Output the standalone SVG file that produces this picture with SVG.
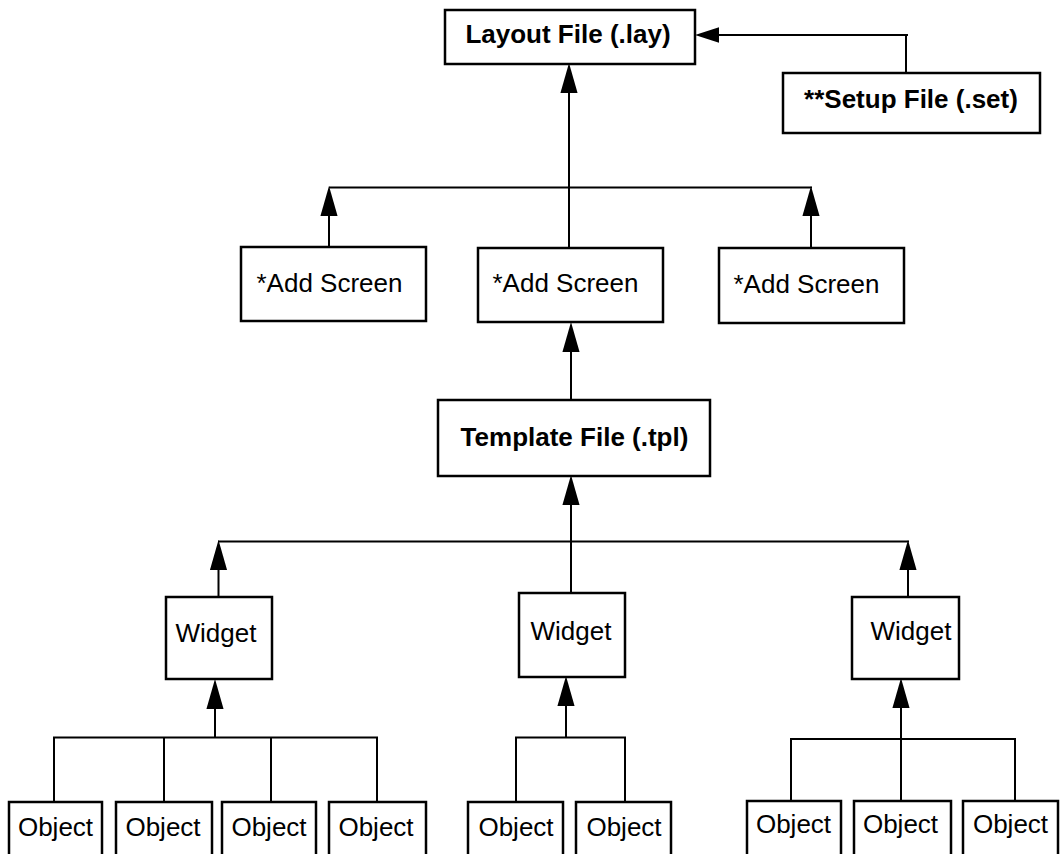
<svg xmlns="http://www.w3.org/2000/svg" width="1061" height="854" viewBox="0 0 1061 854">
  <style>
    .box { fill: #ffffff; stroke: #000000; stroke-width: 2.5; }
    .lbl { font-family: "Liberation Sans", Arial, Helvetica, sans-serif; font-size: 26px; fill: #000000; text-anchor: middle; }
    .bold { font-weight: bold; }
    .wire { fill: none; stroke: #000000; stroke-width: 2; }
    .arr { marker-end: url(#head); }
    .arrs { marker-end: url(#headS); }
  </style>
  <defs>
    <marker id="head" markerUnits="userSpaceOnUse" markerWidth="30" markerHeight="18" refX="0" refY="8" orient="auto" viewBox="0 0 28 16">
      <path d="M0,0 L28,8 L0,16 Z" fill="#000000"/>
    </marker>
    <marker id="headS" markerUnits="userSpaceOnUse" markerWidth="24" markerHeight="16" refX="0" refY="7" orient="auto" viewBox="0 0 22 14">
      <path d="M0,0 L22,7 L0,14 Z" fill="#000000"/>
    </marker>
  </defs>
  <rect width="1061" height="854" fill="#ffffff"/>

  <g id="connectors">
    <!-- Setup to Layout -->
    <path class="wire" d="M906,73 V35"/>
    <path class="wire arrs" d="M908,35 H719"/>
    <!-- Add Screens to Layout -->
    <path class="wire arr" d="M569,248 V93"/>
    <path class="wire" d="M329,187.5 H812"/>
    <path class="wire arr" d="M329,247 V216"/>
    <path class="wire arr" d="M811,248 V216"/>
    <!-- Template to middle Add Screen -->
    <path class="wire arr" d="M571,400 V352"/>
    <!-- Widgets to Template -->
    <path class="wire arr" d="M571,593 V505"/>
    <path class="wire" d="M218,541.5 H909"/>
    <path class="wire arr" d="M218.5,597 V570"/>
    <path class="wire arr" d="M908,597 V570"/>
    <!-- Left objects to left widget -->
    <path class="wire arr" d="M215,737.5 V709"/>
    <path class="wire" d="M54,802 V737.5 H377 V802 M164,737.5 V802 M271,737.5 V802"/>
    <!-- Middle objects to middle widget -->
    <path class="wire arr" d="M566,737.5 V706"/>
    <path class="wire" d="M516,802 V737.5 H625 V802"/>
    <!-- Right objects to right widget -->
    <path class="wire arr" d="M901,801 V708"/>
    <path class="wire" d="M791,801 V739 H1015 V801"/>
  </g>

  <g id="layout">
    <rect class="box" x="445" y="10" width="250" height="54"/>
    <text class="lbl bold" x="568" y="43">Layout File (.lay)</text>
  </g>
  <g id="setup">
    <rect class="box" x="783" y="73" width="257" height="60"/>
    <text class="lbl bold" x="911" y="107.5">**Setup File (.set)</text>
  </g>
  <g id="addscreen1">
    <rect class="box" x="241" y="247" width="185" height="74"/>
    <text class="lbl" x="329.5" y="292">*Add Screen</text>
  </g>
  <g id="addscreen2">
    <rect class="box" x="478" y="248" width="185" height="74"/>
    <text class="lbl" x="565.5" y="292">*Add Screen</text>
  </g>
  <g id="addscreen3">
    <rect class="box" x="719" y="248" width="185" height="75"/>
    <text class="lbl" x="806.5" y="293">*Add Screen</text>
  </g>
  <g id="template">
    <rect class="box" x="438" y="400" width="272" height="76"/>
    <text class="lbl bold" x="574.5" y="446">Template File (.tpl)</text>
  </g>
  <g id="widget1">
    <rect class="box" x="166" y="597" width="106" height="82"/>
    <text class="lbl" x="216" y="641.5">Widget</text>
  </g>
  <g id="widget2">
    <rect class="box" x="519" y="593" width="106" height="84"/>
    <text class="lbl" x="571" y="640">Widget</text>
  </g>
  <g id="widget3">
    <rect class="box" x="852" y="597" width="107" height="82"/>
    <text class="lbl" x="911" y="640">Widget</text>
  </g>

  <g id="object1">
    <rect class="box" x="9" y="802" width="93" height="70"/>
    <text class="lbl" x="55.5" y="836">Object</text>
  </g>
  <g id="object2">
    <rect class="box" x="116" y="802" width="96" height="70"/>
    <text class="lbl" x="163" y="836">Object</text>
  </g>
  <g id="object3">
    <rect class="box" x="222" y="802" width="94" height="70"/>
    <text class="lbl" x="269" y="836">Object</text>
  </g>
  <g id="object4">
    <rect class="box" x="329" y="802" width="97" height="70"/>
    <text class="lbl" x="376" y="836">Object</text>
  </g>
  <g id="object5">
    <rect class="box" x="468" y="802" width="95" height="70"/>
    <text class="lbl" x="516" y="836">Object</text>
  </g>
  <g id="object6">
    <rect class="box" x="576" y="802" width="95" height="70"/>
    <text class="lbl" x="624" y="836">Object</text>
  </g>
  <g id="object7">
    <rect class="box" x="747" y="801" width="94" height="70"/>
    <text class="lbl" x="793.5" y="833">Object</text>
  </g>
  <g id="object8">
    <rect class="box" x="854" y="801" width="97" height="70"/>
    <text class="lbl" x="900.5" y="833">Object</text>
  </g>
  <g id="object9">
    <rect class="box" x="963" y="801" width="95" height="70"/>
    <text class="lbl" x="1010.5" y="833">Object</text>
  </g>
</svg>
